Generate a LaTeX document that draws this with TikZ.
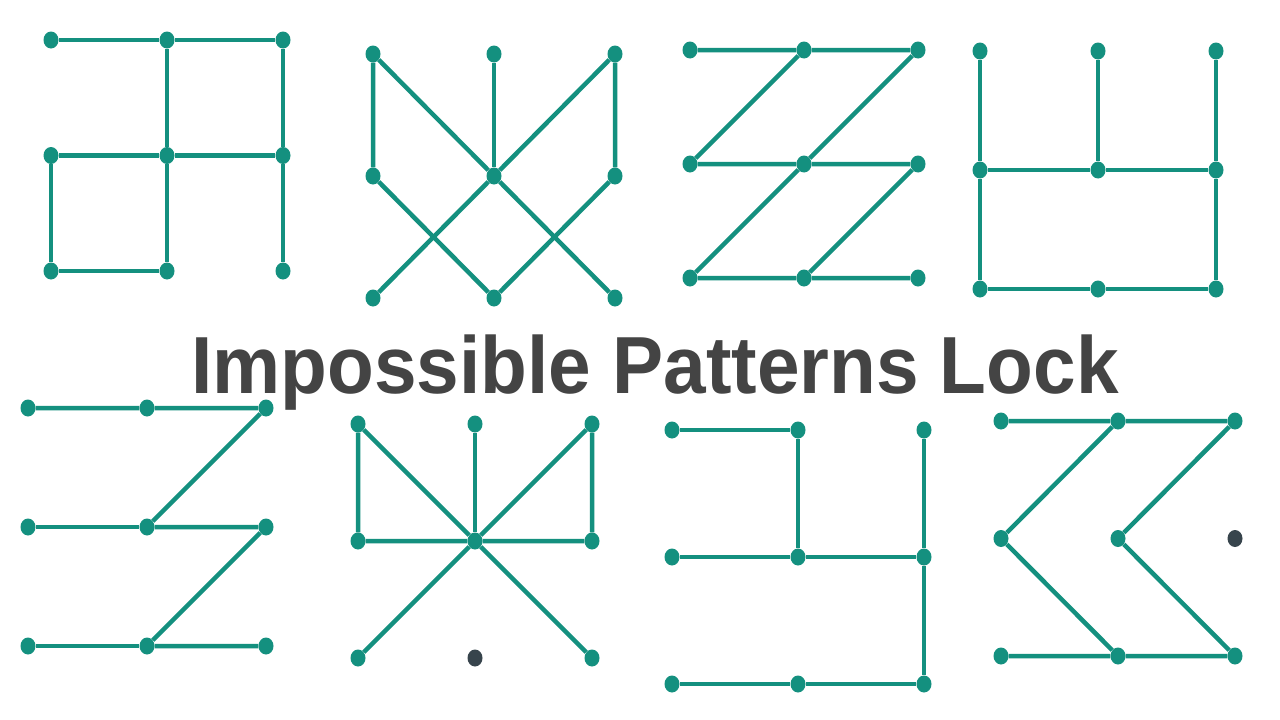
\documentclass[tikz,border=0pt]{standalone}
\usepackage{fontspec}
\setmainfont{Liberation Sans}
\usetikzlibrary{shapes.geometric}

\definecolor{lockgreen}{HTML}{14907F}
\definecolor{dotgray}{HTML}{37444C}
\definecolor{titlegray}{HTML}{444444}

% 3x3 lock grid: [dark dot] {prefix}{x}{y}{dx}{dy}
\newcommand{\lockgrid}[6][0]{%
  \foreach \r in {1,2,3}{\foreach \c in {1,2,3}{%
    \ifnum\r\c=#1\relax\def\dotfill{dotgray}\else\def\dotfill{lockgreen}\fi
    \node[dot, fill=\dotfill] (#2\r\c) at ({#3+(\c-1)*#5},{#4+(\r-1)*#6}) {};
  }}}

\begin{document}
\begin{tikzpicture}[
    x=1pt, y=-1pt,
    dot/.style={ellipse, draw=none, inner sep=0pt, minimum width=15pt, minimum height=17pt},
    link/.style={lockgreen, line width=4.5pt}
]

\path[fill=white] (0,0) rectangle (1280,720);

% Grids
\lockgrid{a}{51}{40}{116}{115.5}
\lockgrid{b}{373}{54}{121}{122}
\lockgrid{c}{690}{50}{114}{114}
\lockgrid{d}{980}{51}{118}{119}
\lockgrid{e}{28}{408}{119}{119}
\lockgrid[32]{f}{358}{424}{117}{117}
\lockgrid{g}{672}{430}{126}{127}
\lockgrid[23]{h}{1001}{421}{117}{117.5}

% Patterns, top row
\draw[link] (a11) -- (a12) -- (a13) -- (a23) -- (a33);
\draw[link] (a12) -- (a22) -- (a32) -- (a31) -- (a21) -- (a22) -- (a23);

\draw[link] (b21) -- (b11) -- (b22) -- (b13) -- (b23) -- (b32) -- (b21);
\draw[link] (b12) -- (b22);
\draw[link] (b31) -- (b22) -- (b33);

\draw[link] (c11) -- (c12) -- (c13) -- (c22) -- (c31) -- (c32) -- (c33);
\draw[link] (c12) -- (c21) -- (c22) -- (c23) -- (c32);

\draw[link] (d11) -- (d21) -- (d31) -- (d32) -- (d33) -- (d23) -- (d13);
\draw[link] (d21) -- (d22) -- (d23);
\draw[link] (d12) -- (d22);

% Patterns, bottom row
\draw[link] (e11) -- (e12) -- (e13) -- (e22) -- (e23) -- (e32) -- (e33);
\draw[link] (e21) -- (e22);
\draw[link] (e31) -- (e32);

\draw[link] (f22) -- (f11) -- (f21) -- (f22) -- (f23) -- (f13) -- (f22);
\draw[link] (f12) -- (f22);
\draw[link] (f31) -- (f22) -- (f33);

\draw[link] (g11) -- (g12) -- (g22) -- (g21);
\draw[link] (g22) -- (g23) -- (g13);
\draw[link] (g23) -- (g33) -- (g32) -- (g31);

\draw[link] (h11) -- (h12) -- (h13) -- (h22) -- (h33) -- (h32) -- (h31);
\draw[link] (h12) -- (h21) -- (h32);

\node[anchor=base, inner sep=0pt, text=titlegray, font=\fontsize{81}{90}\selectfont\bfseries]
    (title) at (655,393) {\addfontfeature{FakeStretch=0.945}Impossible Patterns Lock};

\end{tikzpicture}
\end{document}
